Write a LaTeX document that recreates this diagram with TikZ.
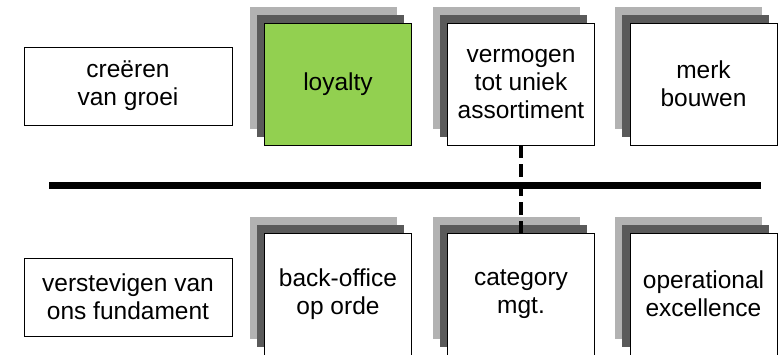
\documentclass[tikz,border=0pt]{standalone}
\usepackage{fontspec}
\setmainfont{Liberation Sans}
\usetikzlibrary{shadows}
\usetikzlibrary{positioning}
\usetikzlibrary{calc}

\definecolor{groen}{RGB}{146,208,80}
\definecolor{grijslicht}{RGB}{178,178,178}
\definecolor{grijsdonker}{RGB}{90,90,90}

\tikzset{
  doel/.style={draw, thick, fill=white, minimum width=147pt, minimum height=122pt,
     align=center, inner sep=0pt,
     general shadow={fill=grijslicht, shadow xshift=-15pt, shadow yshift=16pt},
     general shadow={fill=grijsdonker, shadow xshift=-8pt, shadow yshift=8pt}},
  kop/.style={draw, thick, fill=white, minimum width=208pt, minimum height=78pt,
     align=center, inner sep=0pt}
}

\begin{document}
\begin{tikzpicture}[x=1pt, y=-1pt, font=\fontsize{24.5}{28}\selectfont]

 \useasboundingbox (0,0) rectangle (780,354);
 \clip (0,0) rectangle (780,354);

 %level 1
 \def\dy{84};
 \node[kop] (K1) at (128,86) {creëren\\van groei};

 \foreach \x/\name/\kleur/\tekst in {338/1/groen/loyalty, 521/2/white/vermogen\\tot uniek\\assortiment, 703.5/3/white/merk\\bouwen} {
        \node[doel, fill=\kleur] (T\name) at (\x,\dy) {\tekst};
 }

 %level 2
 \def\dy{294};
 \node[kop] (K2) at (128,297) {verstevigen van\\ons fundament};

 \foreach \x/\name/\tekst in {338/1/back-office\\op orde, 521/2/category\\mgt., 703.5/3/operational\\excellence} {
        \node[doel] (B\name) at (\x,\dy) {\tekst};
 }

 %line
 \coordinate (L1) at (49,185.5);
 \coordinate (L2) at (761,185.5);
 \draw[line width=7pt] (L1) -- (L2);

 %dashed
 \draw[line width=3.5pt, dash pattern=on 13pt off 6pt] (T2.south) -- (B2.north);

\end{tikzpicture}
\end{document}
